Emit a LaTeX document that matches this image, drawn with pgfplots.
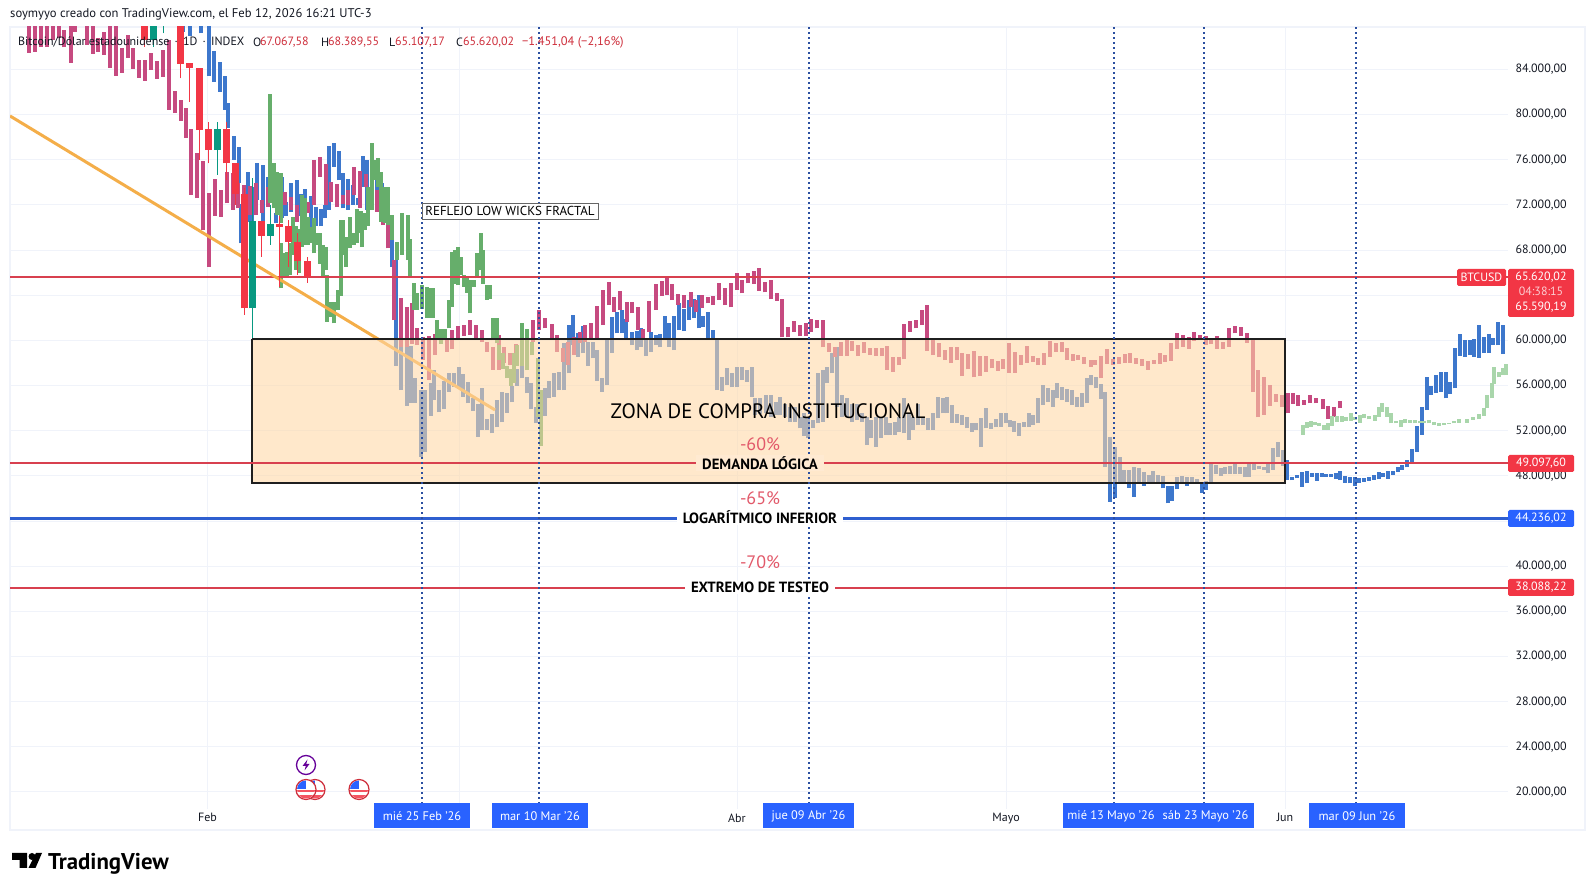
\documentclass[border=0pt]{standalone}
\usepackage{fontspec}
\setmainfont{PT Sans}
\usepackage{pgfplots}
\usepackage{pgfplotstable}
\pgfplotsset{compat=1.18}
\definecolor{tvpink}{HTML}{C64A80}
\definecolor{tvblue}{HTML}{3D77CC}
\definecolor{tvgreen}{HTML}{66AE6B}
\definecolor{tvpale}{HTML}{A9D6AB}
\definecolor{tvred}{HTML}{F23645}
\definecolor{tvteal}{HTML}{089981}
\definecolor{tvline}{HTML}{D8404F}
\definecolor{tvgrid}{HTML}{F0F3FA}
\definecolor{tvtag}{HTML}{2962FF}
\definecolor{tvtext}{HTML}{131722}
\definecolor{tvlog}{HTML}{2F5FD0}
\definecolor{tvpct}{HTML}{E2596A}
\definecolor{tvdot}{HTML}{2B4FA0}
\definecolor{tvorange}{HTML}{F4AE49}
\definecolor{zone}{HTML}{FFD9A7}
\definecolor{zoneflat}{HTML}{FFEAD2}
% x: time position on the chart; lo and hi: bar range in thousand USD
\pgfplotstableread{
x lo hi
29 85.49 88
35 85.58 88
41 86.02 88
47 86.02 88
53 86.6 88
59 86.76 88
64 85.96 87.5
71 84.6 88
75 87.35 88
87 86.17 88
93 85.37 88
98 85.58 86.76
104 85.28 87.35
110 84.16 88
116 83.45 88
122 83.72 85.87
128 85.05 87.05
133 84.04 85.87
139 83.27 84.84
145 83.01 84.84
151 83.95 85.43
157 83.16 84.75
163 83.36 85.73
169 80.41 86.61
175 80.12 82.1
181 79.44 81.3
186 77.96 80.56
191 72.88 78.73
197 72.59 76.57
203 69.78 75.9
209 66.54 73.03
215 71.02 74.27
221 70.96 73.33
227 72.14 74.95
233 71.55 74.8
238 71.7 73.9
244 70.67 73.77
250 71.11 73.68
256 71.1 73.92
262 71.26 72.44
268 71.85 73.62
274 71.85 73.77
280 71.26 73.33
285 72 73.18
291 71.55 72.73
297 70.5 71.99
303 71.26 72.3
308 71.3 72.3
314 72 75.98
320 74.5 76.22
326 72 75.6
331 72.3 74.06
337 71.85 73.86
343 72.1 72.88
348 72 73.3
354 72.88 75.33
360 71.7 75.04
366 73.62 74.74
372 72.4 74.2
377 71.4 73.33
383 70.2 70.9
388 68.16 70.52
394 61.8 67.1
401 59.45 63.73
407 59.45 63
412 59.7 63.3
417 59.6 61.07
423 58.3 60.3
429 56.5 60.4
435 58.7 60.6
441 60 60.5
447 59 60.2
452 59.2 60.9
458 60.2 61.28
464 60.4 61.37
470 60.5 61.8
476 60.04 61.37
482 59.9 60.9
487 59 59.9
493 57.4 59.45
499 57.4 60.5
504 58 59.45
510 57.8 58.9
516 58 59.7
522 58.6 60
527 59.3 60.2
533 59.9 61.8
539 60.9 62.7
545 61.07 62
552 60.18 61.45
557 59 60.5
563 58.11 59.29
568 57.82 59.88
574 58.7 60.33
580 59.74 60.77
585 59.88 61.36
591 60.18 61.5
597 60.2 63.04
603 61.36 64.46
609 63.13 65.14
614 62.54 63.87
620 62.69 64.37
627 61.65 63.36
632 62.39 63.36
638 60.91 62.92
643 60.18 60.97
649 60.77 63.5
656 62.69 64.96
662 63.93 65.28
667 64.01 65.49
672 63.57 64.99
678 63.13 64.07
684 62.83 64.01
691 62.92 64.31
696 62.54 63.57
702 62.84 64.02
708 63.28 63.8
713 63.13 63.93
719 63.57 65.05
725 63.13 64.66
731 62.92 65.11
737 64.46 65.93
742 64.16 65.34
748 65.05 65.99
754 64.99 66.17
759 64.4 66.38
765 64.25 65.14
771 63.63 65.34
777 63.51 64.16
782 60.26 63.63
788 60.26 61.15
794 60.77 61.71
800 60.38 61.36
806 60.38 61.5
811 60.77 61.86
817 61.06 61.8
823 59.38 61.8
829 59 59.73
835 58.55 59.44
841 58.61 59.88
847 58.61 60.03
852 59.08 59.97
858 58.61 59.59
864 58.91 59.82
870 58.7 59.29
876 58.61 59.29
882 58.61 59.29
887 57.37 59.5
893 57.22 58.49
899 57.81 58.49
904 58.32 61.45
910 60.77 61.71
916 61.06 61.8
922 61.36 62.69
927 59.08 63.13
933 58.7 60.03
939 58.49 59.73
945 58.26 59.14
951 57.96 59.44
957 58.26 59.38
962 56.84 58.85
968 57.43 58.79
974 56.72 59.08
980 56.84 58.61
986 57.22 58.61
992 57.52 58.32
998 57.31 58.2
1003 57.43 58.32
1009 57.13 59.73
1015 57.13 59
1021 57.81 58.7
1027 58.02 59.5
1033 58.11 58.61
1038 57.81 58.4
1044 57.81 58.85
1050 58.55 59.94
1056 59 59.73
1062 59 59.82
1067 58.26 59.29
1073 58.2 58.79
1078 58.26 58.7
1084 57.9 58.55
1091 57.68 58.27
1095 57.82 58.27
1101 56.64 58.62
1107 57.91 59.24
1113 57.82 58.33
1119 57.91 58.5
1125 58.03 58.8
1130 58.03 58.86
1136 57.91 58.41
1142 57.74 58.33
1148 57.38 58.21
1154 57.91 58.27
1160 57.91 58.86
1165 58.12 58.71
1171 58.21 59.8
1177 59.24 60.63
1183 59.45 60.48
1189 59.24 60.27
1194 59.98 60.72
1200 60.04 60.48
1206 59.6 60.39
1211 59.68 60.19
1217 59.24 60.39
1223 59.24 59.89
1229 59.45 61.07
1235 60.63 61.28
1241 60.42 61.16
1247 59.8 60.69
1253 55.46 60.04
1258 53.19 57.38
1264 53.4 56.73
1270 54.19 56.05
1276 54.58 55.25
1282 54.07 55.17
1288 53.54 55.37
1293 54.37 55.31
1298 54.19 55.16
1304 54.28 54.72
1310 54.42 55.16
1316 54.42 54.87
1323 53.89 54.78
1328 53 54.19
1334 53.24 54.13
1340 53.98 54.66
}\pinkbars
\pgfplotstableread{
x lo hi
183 87.35 88
190 86.99 88
201 87.2 88
209 83.45 88
214 82.92 85.64
220 82.03 84.69
225 80.41 83.42
228 78.79 81
234 75.98 78.11
239 73.9 77.1
241 68.6 72.1
248 70.5 74.95
252 70.6 73.6
257 72.44 75.69
263 70.5 75.5
268 72.6 74.5
276 70.4 71.26
282 70.8 74.5
286 71 72.3
291 71.4 73.9
297 71.55 74.2
301 71 73
305 70.96 73.38
311 68.9 72.8
316 70.1 71.8
321 70.1 71.6
325 70.8 72
329 71.55 77.2
334 75.4 77.5
339 74.2 76.8
343 71.7 74.8
348 71.55 74.3
353 72 73.8
358 72 72.6
363 73.6 76.3
367 71.55 76
377 73 74.2
382 71.25 73.9
386 70.4 71.85
392 66.5 69.8
396 57.76 67.1
401 55.6 60.33
407 54.2 60.33
411 54.48 59.5
415 54.48 56.63
421 49.7 55.6
425 50.14 55.6
431 53.33 56.19
434 54.72 57.37
439 53.62 55.6
444 53.89 56.4
449 55.45 57.08
454 55.9 57.08
459 55.81 57.61
463 55 57
468 54.42 56.34
473 53.74 54.86
478 51.47 54.36
482 52.06 55.75
487 52.06 53.03
492 51.76 53.45
497 52.3 54.72
502 52.74 55.45
507 53.59 55.3
512 54.51 56
517 56 57.5
522 56.64 57.8
527 55.3 56.78
531 53.89 56.19
536 52.65 54.13
541 52.8 55.6
545 53.33 55.75
549 54.86 56.4
554 55 57.08
559 55.6 57.2
564 55.6 59.73
569 57.08 61.36
573 59.59 62.25
578 58.55 60.62
583 58.85 61.27
588 57.76 59.88
593 58.41 59.88
597 56.43 59.15
602 55.45 56.64
607 56.05 60.09
612 58.91 62.04
617 60.62 62.54
622 60.62 62.69
626 60.09 61.86
632 59.59 60.77
637 59.14 60.83
641 59.4 61.06
646 58.6 60.18
651 59 60.7
656 59.59 60.47
660 59.38 60.56
665 60.18 62.15
669 59.44 61.5
674 59.14 62.15
679 60.91 63.28
684 60.83 62.74
689 61.8 63.57
694 61.95 63.63
699 61.06 64
703 61.15 62.15
708 60.03 62.48
713 60.03 60.91
717 55.6 60.09
722 55.54 56.78
727 56.04 57.58
732 55.84 57.08
737 55.84 57.67
742 56.5 57.67
747 56.34 57.37
752 55 57.67
755 53.4 54.86
760 53.5 54.86
766 53.53 55.16
771 53.24 55.16
776 53.38 54.57
780 53.38 55
785 53.24 54.4
790 52.8 54.1
795 52.8 54.1
800 52.2 53.2
804 51.53 53.53
808 51.32 53.24
813 52.2 52.94
818 52.65 57.08
823 52.8 57.37
827 56.19 57.6
832 57.08 58.85
837 54.12 59.44
842 53.24 55.16
847 53.24 54.86
852 52.8 54.4
857 52.95 54.4
862 52.8 53.53
867 50.73 53.24
871 51.32 52.94
876 50.58 53.24
881 51.32 53.09
886 51.6 53.24
890 51.6 52.65
895 51.6 52.8
899 51.9 53.24
904 51.76 54.86
909 51.17 53.53
913 52.05 53.24
918 52.5 54.4
923 52.5 53.09
928 52.06 53.09
933 52.06 53.53
938 53.09 55
943 53.53 54.86
947 53.53 55
952 52.7 54.27
957 52.65 53.47
962 52.5 53.38
967 52.2 53.24
972 51.9 52.65
976 52.06 52.65
981 50.58 53.09
986 52.2 53.97
991 52.15 52.65
996 52.3 53
1001 52.35 53.53
1006 52.65 53.53
1010 52.35 52.94
1014 51.9 52.88
1019 51.53 52.65
1024 52.35 52.8
1029 52.35 53.53
1033 52.5 53.38
1038 52.65 54.86
1043 54.27 56.04
1048 54.57 55.75
1053 54.12 55.6
1057 54.86 56.19
1062 54.72 55.84
1067 54.57 55.66
1072 54.27 55.6
1077 54.12 55
1082 54.12 55.3
1087 54.42 56.63
1091 56.05 56.94
1096 55.76 56.73
1101 54.81 56.14
1105 48.82 55.46
1110 45.72 51.48
1115 46 50.59
1120 47.28 49.65
1124 47.49 48.52
1129 46.96 48.52
1134 46.16 48.76
1139 47.49 48.67
1144 47.14 48.38
1149 47.49 48.08
1153 47.4 48.46
1158 47.49 48.08
1163 46.9 48
1168 45.57 47.14
1172 45.78 47.14
1177 46.81 47.93
1182 47.49 48.02
1187 47.14 47.87
1192 47.34 47.93
1197 47.28 47.7
1202 46.52 47.49
1206 46.75 47.58
1211 47.49 49.05
1216 48.17 48.97
1221 48 48.67
1225 48.17 48.82
1230 48.17 48.88
1235 48.17 49.26
1240 48.17 48.82
1245 47.87 48.82
1249 47.93 49.05
1254 48.52 49.05
1259 48.58 48.88
1264 48.55 48.82
1268 48.23 49.11
1273 48.52 50.44
1278 49.7 51.03
1283 48.88 50.3
1287 47.63 49.4
1292 47.63 47.93
1297 47.78 48.08
1302 47.05 48.37
1307 47.34 48.46
1312 47.93 48.22
1317 47.57 48.28
1322 47.93 48.22
1326 47.93 48.14
1331 47.93 48.14
1336 47.7 48.22
1340 47.63 48.43
1345 47.4 47.99
1350 47.34 47.87
1355 47.1 47.93
1359 47.4 47.78
1364 47.49 47.78
1369 47.57 47.93
1374 47.63 48.08
1379 47.69 48.37
1383 47.87 48.22
1388 47.75 48.46
1393 48.08 48.46
1398 48.37 48.76
1402 48.52 48.96
1407 48.76 49.4
1412 49.05 50.35
1417 50.14 52.42
1422 51.62 54.13
1427 53.83 56.73
1431 55.16 55.96
1436 55.31 56.93
1441 55.46 57.23
1446 54.87 57.23
1450 55.25 56.34
1455 55.75 59.3
1460 58.62 60.57
1465 58.56 60.03
1470 58.7 60.03
1474 58.56 60.09
1479 58.47 61.33
1484 58.91 60.33
1489 58.91 60.57
1493 59.59 60.18
1498 59.59 61.6
1503 58.79 61.36
}\bluebars
\pgfplotstableread{
x lo hi
270 72.14 81.8
274 71.7 75.69
277 71.1 74.95
281 70.4 74.8
281 64.6 68.6
284 65.65 67.7
287 65.65 67.8
290 65.8 68.6
293 67.57 70.96
296 66.24 70.1
299 65.94 69.9
302 68.3 72.88
305 68.45 72.6
308 68.45 70.96
311 68.6 70
314 67.7 70.8
317 68.45 69.5
320 66.8 69.5
323 65.7 68.45
326 66.24 68.3
327 61.66 65.8
331 62.1 63.4
334 61.5 63.4
338 62.7 64.47
341 63.9 70.66
343 67.57 70.7
346 66.5 69.2
350 68.16 70.9
354 68.45 69.5
357 68.6 71.6
361 69.5 71.5
362 68.25 70.66
365 69.78 71.26
368 70.1 73.62
372 71.55 77.46
375 74.2 76
378 73.6 76.13
381 70.5 74.95
385 70.4 73.6
388 70.2 73.6
392 68.9 71.1
397 67.1 68.75
402 67.57 71.26
408 67.1 71.1
410 65.65 69
414 62.7 65.06
417 62.7 64.2
422 62.8 64.9
427 62 64.76
430 62 64.6
433 62 64.6
437 60 61.8
441 59.7 61
445 60 61
449 61.07 63.6
452 63 67.86
455 65 68
458 64.9 68.25
461 65.8 67.4
464 64.76 65.8
467 64.2 65.65
470 62.4 65.35
474 64.75 65.35
477 65.5 67.7
481 66.2 69.5
483 65 68
487 63.6 64.9
490 63.7 64.9
493 60 61.96
497 59.74 61.95
499 58.26 59.6
503 57.5 58.85
507 56.64 57.7
511 56 57.5
514 56.2 58.85
517 57.7 59.6
522 57.7 61.5
527 57.37 60.97
532 58.7 59.88
538 53.24 58.4
541 50.64 55.6
}\greenbars
\pgfplotstableread{
x lo hi
1303 51.62 52.5
1307 52.2 52.8
1311 52.36 52.86
1315 52.5 52.74
1319 52.45 52.71
1324 52.06 52.5
1328 52.06 52.65
1332 52.42 53.3
1337 52.8 53.3
1342 52.8 53.3
1346 52.86 53.24
1351 52.86 53.54
1355 52.95 53.18
1360 52.71 53.39
1364 53.1 53.45
1369 53 53.3
1375 52.89 53.39
1379 53.24 54.13
1382 53.68 54.48
1387 53.24 54.13
1391 52.65 53.6
1396 52.65 52.89
1401 52.3 52.95
1405 52.65 53
1410 52.7 52.95
1415 52.65 52.95
1420 52.65 52.89
1424 52.65 52.89
1429 52.65 52.95
1434 52.5 52.8
1439 52.45 52.71
1444 52.5 52.65
1449 52.58 52.71
1454 52.65 52.83
1459 52.71 53
1467 52.71 53
1473 52.95 53.18
1479 53 53.48
1484 53.3 53.98
1487 53.98 55.16
1492 54.87 56.2
1494 56.14 57.6
1499 56.73 57.23
1503 56.93 57.52
1506 56.93 57.9
}\palebars
% candles: wick lo/hi, body lo/hi
\pgfplotstableread{
x lo hi
144 86.6 88
180 84.49 88
189 84.1 84.54
199 78.63 84.1
208 76.86 78.7
226 75.68 78.7
235 73 75.68
244 62.84 73
261 69.25 70.6
279 70.07 70.3
288 68.74 70.1
297 67.06 68.74
307 65.65 67.06
}\redbody
\pgfplotstableread{
x lo hi
144 86 88
180 83.2 88
189 81.15 84.54
199 75.98 84.1
208 75.68 79.37
226 74.2 79.37
235 72 75.68
244 62.25 73.5
261 67.4 70.6
279 64.76 71
288 66.5 70.66
297 65.8 69.5
307 65.1 67.4
}\redwick
\pgfplotstableread{
x lo hi
153 86.6 88
217 76.86 78.7
252 62.84 70.6
270 69.25 70.3
}\tealbody
\pgfplotstableread{
x lo hi
153 86 88
163 87.2 88
217 74.65 79.37
252 60.18 74.36
270 68.45 72
}\tealwick
\newcommand{\rangebars}[3]{%
  \addplot[draw=none,no marks,forget plot,error bars/.cd,y dir=plus,y explicit,error mark=none,
    error bar style={draw=#1,line width=#2}]
    table[x=x,y=lo,y error expr=\thisrow{hi}-\thisrow{lo}] {#3};}
\begin{document}
\begin{tikzpicture}
\path[use as bounding box,fill=white] (0pt,0pt) rectangle (1595pt,891pt);
% chart frame
\draw[color=tvgrid,line width=2pt] (10pt,61pt) rectangle (1585pt,864pt);
\begin{axis}[
  at={(10pt,82pt)},anchor=south west,scale only axis,width=1498pt,height=782pt,
  xmin=10,xmax=1508,ymin=18.49,ymax=87.76,
  axis line style={draw=none},major tick length=0pt,
  grid=major,grid style={draw=tvgrid,line width=1pt},
  xtick={207.5,459,737,1006,1285},
  xticklabels={Feb,{},Abr,Mayo,Jun},
  xticklabel style={font=\fontsize{12}{14}\selectfont,text=tvtext,yshift=-1pt},
  ytick={20,24,28,32,36,40,44,48,52,56,60,64,68,72,76,80,84},
  yticklabels={{20.000,00},{24.000,00},{28.000,00},{32.000,00},{36.000,00},{40.000,00},{},{48.000,00},{52.000,00},{56.000,00},{60.000,00},{},{68.000,00},{72.000,00},{76.000,00},{80.000,00},{84.000,00}},
  yticklabel pos=right,
  yticklabel style={font=\fontsize{12}{14}\selectfont,text=tvtext,anchor=west,xshift=4pt},
]
\rangebars{tvblue}{4.4pt}{\bluebars}
\rangebars{tvpink}{4.4pt}{\pinkbars}
\rangebars{tvgreen}{4.6pt}{\greenbars}
\addplot[color=tvline,line width=2pt,forget plot] coordinates {(10,65.62) (1508,65.62)};
\addplot[color=tvorange,line width=3pt,forget plot] coordinates {(10,79.88) (495,53.84)};
\rangebars{tvred}{1pt}{\redwick}
\rangebars{tvteal}{1pt}{\tealwick}
\rangebars{tvred}{7pt}{\redbody}
\rangebars{tvteal}{7pt}{\tealbody}
\addplot[draw=none,fill=zone,fill opacity=0.58,forget plot] coordinates {(252,60.09) (1285,60.09) (1285,47.39) (252,47.39) (252,60.09)};
\addplot[draw=black!88,line width=2pt,forget plot] coordinates {(252,60.09) (1285,60.09) (1285,47.39) (252,47.39) (252,60.09)};
\rangebars{tvpale}{4.4pt}{\palebars}
\addplot[color=tvline,line width=2pt,forget plot] coordinates {(10,49.0976) (1508,49.0976)};
\addplot[color=tvlog,line width=3pt,forget plot] coordinates {(10,44.236) (1508,44.236)};
\addplot[color=tvline,line width=2pt,forget plot] coordinates {(10,38.088) (1508,38.088)};
\foreach \vx in {422,539,809,1114,1204,1356}{
  \edef\temp{\noexpand\addplot[color=tvdot,line width=1.5pt,dash pattern=on 2pt off 3pt,forget plot] coordinates {(\vx,18.49) (\vx,87.76)};}
  \temp
}
\end{axis}
\begin{scope}[x=1pt,y=-1pt,shift={(0pt,891pt)}]
\tikzset{lbl/.style={font=\fontsize{12}{14}\selectfont,inner sep=0pt,anchor=west}}
% header
\node[lbl,font=\fontsize{12.6}{14}\selectfont,text=tvtext] at (10,14.5) {soymyyo creado con TradingView.com, el Feb 12, 2026 16:21 UTC-3};
\node[lbl,text=tvtext] at (18,42) {Bitcoin/Dólar estadounidense \,·\, 1D \,·\, INDEX};
\foreach \xa/\ta/\xb/\tb in {253/O/260/67.067{,}58,321/H/328/68.389{,}55,389/L/395/65.107{,}17,456/C/463/65.620{,}02}{
  \node[lbl,text=tvtext] at (\xa,42) {\ta};
  \node[lbl,text=tvred!85!black] at (\xb,42) {\tb};
}
\node[lbl,font=\fontsize{12.4}{14}\selectfont,text=tvred!85!black] at (522,42) {−1.451,04 (−2,16\%)};
% annotation
\node[draw=black!60,fill=white,line width=.8pt,inner sep=0pt,minimum width=176pt,minimum height=16pt,font=\fontsize{13}{14}\selectfont] at (510,211) {REFLEJO LOW WICKS FRACTAL};
\node[font=\fontsize{20.9}{22}\selectfont,text=black] at (768,411) {ZONA DE COMPRA INSTITUCIONAL};
\node[font=\fontsize{18}{20}\selectfont,text=tvpct] at (760,444.5) {-60\%};
\node[font=\fontsize{18}{20}\selectfont,text=tvpct] at (760,498.5) {-65\%};
\node[font=\fontsize{18}{20}\selectfont,text=tvpct] at (760,562.5) {-70\%};
\node[fill=zoneflat,inner xsep=6pt,inner ysep=1pt,font=\fontsize{14.8}{16}\selectfont\bfseries,text=black] at (760,463) {DEMANDA LÓGICA};
\node[fill=white,inner xsep=6pt,inner ysep=1pt,font=\fontsize{14.8}{16}\selectfont\bfseries,text=black] at (760,517.5) {LOGARÍTMICO INFERIOR};
\node[fill=white,inner xsep=6pt,inner ysep=1pt,font=\fontsize{14.8}{16}\selectfont\bfseries,text=black] at (760,587.5) {EXTREMO DE TESTEO};
% date tags
\foreach \xa/\xb/\t in {374/470/mié 25 Feb '26,492/588/mar 10 Mar '26,763/854/jue 09 Abr '26,1063/1159/mié 13 Mayo '26}{
  \fill[tvtag] (\xa,803.5) rectangle (\xb,828);
  \node[font=\fontsize{12.4}{14}\selectfont,text=white] at ({(\xa+\xb)/2},816) {\t};
}
\fill[tvtag] (1157,803.5) rectangle (1254,828);
\node[font=\fontsize{12.4}{14}\selectfont,text=white] at (1205.5,816) {sáb 23 Mayo '26};
\fill[tvtag] (1309,803.5) rectangle (1405,828);
\node[font=\fontsize{12.4}{14}\selectfont,text=white] at (1357,816) {mar 09 Jun '26};
% price tags
\fill[tvred,rounded corners=1.5pt] (1457,269) rectangle (1506,286);
\node[font=\fontsize{12}{14}\selectfont,text=white] at (1481.5,277.5) {BTCUSD};
\fill[tvred,rounded corners=1.5pt] (1508,269) rectangle (1574,317);
\node[inner sep=0pt,font=\fontsize{12}{13}\selectfont,text=white] at (1541,277) {65.620,02};
\node[inner sep=0pt,font=\fontsize{12}{13}\selectfont,text=white!75!tvred] at (1541,291) {04:38:15};
\node[inner sep=0pt,font=\fontsize{12}{13}\selectfont,text=white] at (1541,307.5) {65.590,19};
\fill[tvred,rounded corners=1.5pt] (1508,455) rectangle (1574,472);
\node[font=\fontsize{12}{14}\selectfont,text=white] at (1541,463) {49.097,60};
\fill[tvtag,rounded corners=1.5pt] (1508,510) rectangle (1574,527);
\node[font=\fontsize{12}{14}\selectfont,text=white] at (1541,518) {44.236,02};
\fill[tvred,rounded corners=1.5pt] (1508,579) rectangle (1574,596);
\node[font=\fontsize{12}{14}\selectfont,text=white] at (1541,587.5) {38.088,22};
% event icons
\draw[violet!80!blue,line width=1.3pt,fill=white] (306,765) circle (9.5);
\fill[violet!80!blue] (307.5,759.5) -- (302.5,766) -- (305.8,766) -- (304.5,770.5) -- (309.5,764) -- (306.2,764) -- cycle;
\foreach \cx in {315,306,359}{
  \draw[tvred!85!black,line width=1.2pt,fill=white] (\cx,789.5) circle (10);
  \begin{scope}
    \clip (\cx,789.5) circle (9);
    \fill[tvred!85!white] (\cx-10,790) rectangle (\cx+10,792.5);
    \fill[tvred!85!white] (\cx-10,795) rectangle (\cx+10,800);
    \fill[tvtag] (\cx-9,780) rectangle (\cx,789);
  \end{scope}
}
% logo
\fill[black] (12,853) -- (27,853) -- (27,868) -- (19.5,868) -- (19.5,860) -- (12,860) -- cycle;
\fill[black] (32,856.5) circle (3.5);
\fill[black] (36,853) -- (42,853) -- (35.5,868) -- (28.5,868) -- cycle;
\node[lbl,font=\fontsize{22.8}{24}\selectfont\bfseries,text=black] at (48,863.5) {TradingView};
\end{scope}
\end{tikzpicture}
\end{document}
